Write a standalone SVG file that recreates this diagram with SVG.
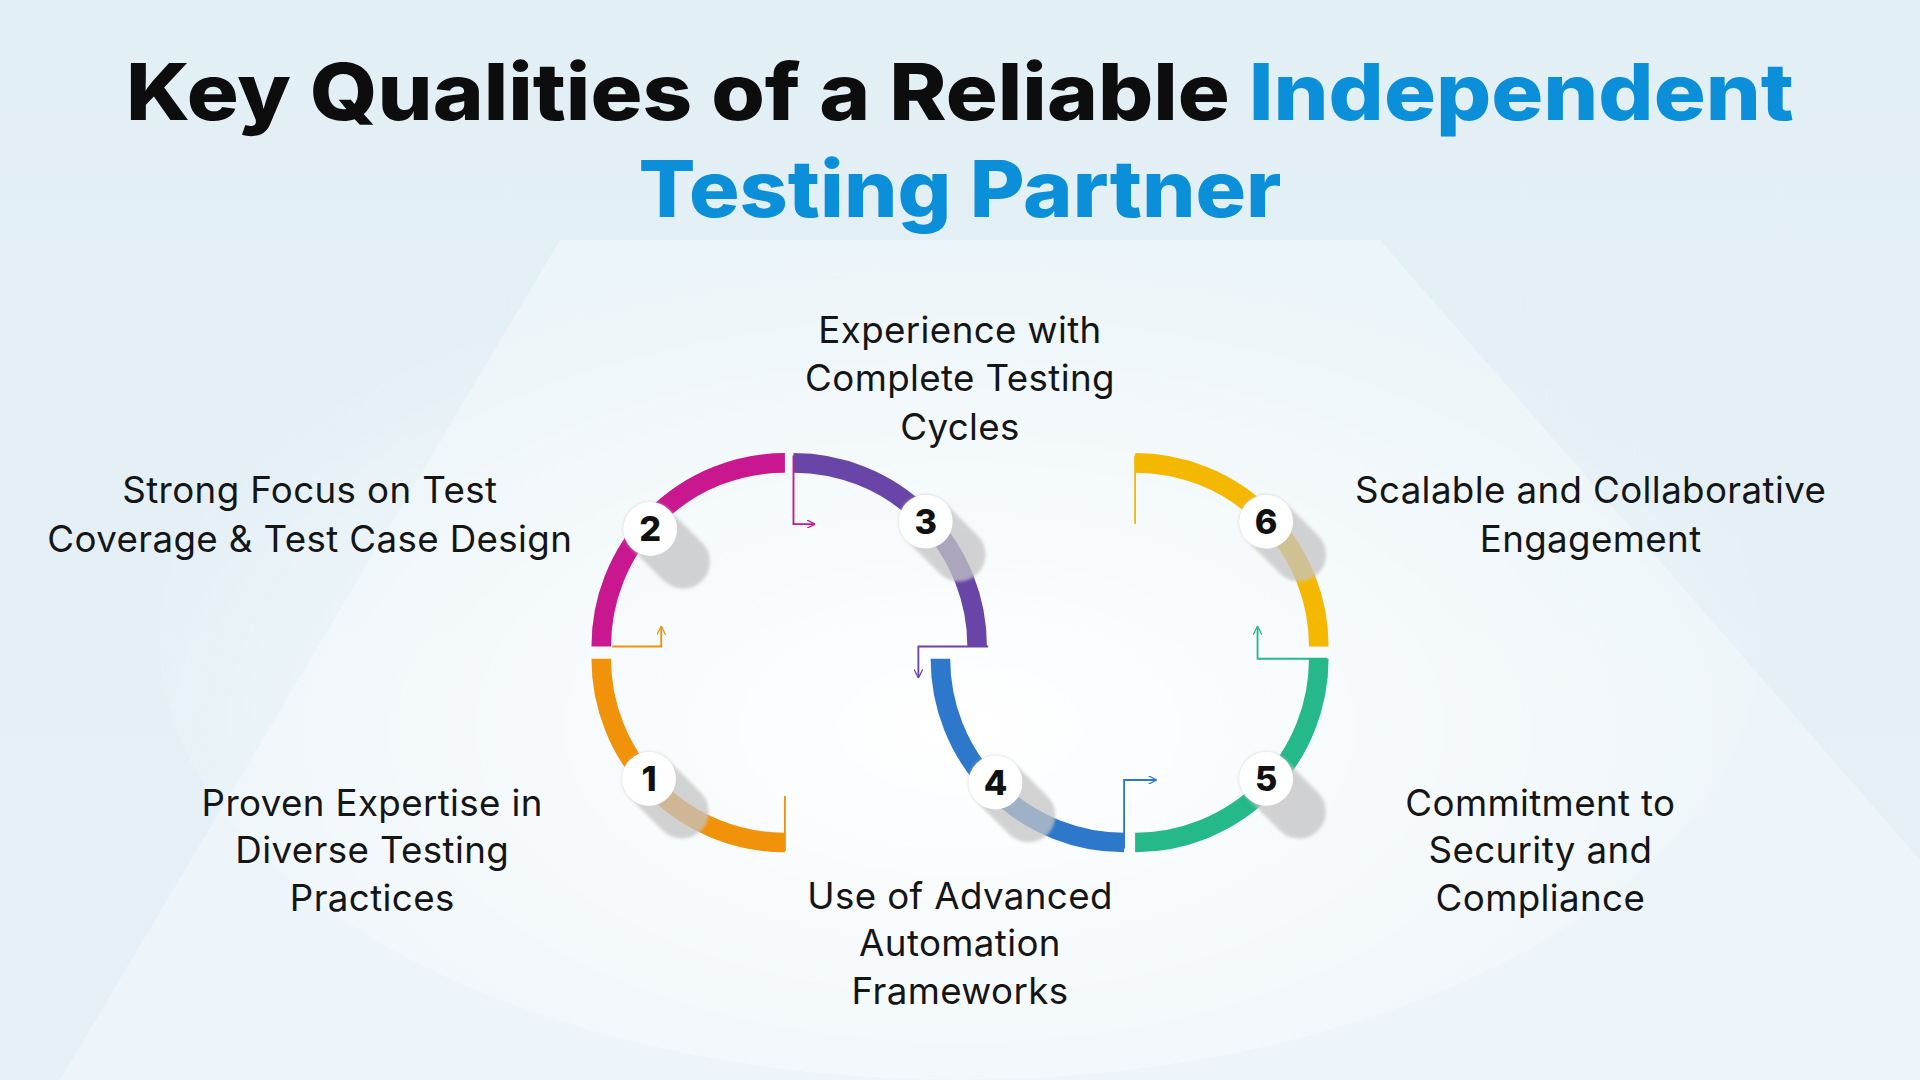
<svg xmlns="http://www.w3.org/2000/svg" width="1920" height="1080" viewBox="0 0 1920 1080">
<defs>
<linearGradient id="bg" x1="0" y1="0" x2="0" y2="1"><stop offset="0" stop-color="#e2eff5"/><stop offset="1" stop-color="#e6f1f7"/></linearGradient>
<radialGradient id="glow" cx="0.5" cy="0.6" r="0.55"><stop offset="0" stop-color="#ffffff"/><stop offset="1" stop-color="#ffffff" stop-opacity="0"/></radialGradient>
<marker id="ah" viewBox="0 0 10 10" refX="9" refY="5" markerWidth="7" markerHeight="7" orient="auto" markerUnits="userSpaceOnUse"><path d="M0,0 L10,5 L0,10" fill="none" stroke="context-stroke" stroke-width="1.5"/></marker>
<filter id="blur"><feGaussianBlur stdDeviation="1.2"/></filter>
</defs>
<style>
.arc{fill:none;stroke-width:16}
.thin{fill:none;stroke-width:1.5}
.lbl{font-family:Inter,"Liberation Sans",sans-serif;font-size:30px;fill:#151515;text-anchor:middle;letter-spacing:0.3px}
.num{font-family:Inter,"Liberation Sans",sans-serif;font-size:28px;font-weight:800;fill:#111;text-anchor:middle}
.title{font-family:Inter,"Liberation Sans",sans-serif;font-size:64px;font-weight:800;text-anchor:middle}
.sh{fill:#c4c4c4;opacity:0.75}
</style>
<rect width="1920" height="1080" fill="url(#bg)"/>
<polygon points="60,1080 560,240 1380,240 1920,860 1920,1080" fill="#f2f8fb" opacity="0.6"/>
<ellipse cx="960" cy="640" rx="800" ry="440" fill="url(#glow)"/>
<g transform="scale(1.2245)">
<g id="title">
<text class="title" x="784" y="98" textLength="1362" lengthAdjust="spacingAndGlyphs"><tspan fill="#0d0d0d">Key Qualities of a Reliable </tspan><tspan fill="#0a8fd8">Independent</tspan></text>
<text class="title" x="784" y="177" fill="#0a8fd8" textLength="525" lengthAdjust="spacingAndGlyphs">Testing Partner</text>
</g>
<g id="connectors">
<path class="arc" stroke="#c8178f" d="M641 378 A150 150 0 0 0 491 528"/>
<path class="arc" stroke="#f0920a" d="M491 538 A150 150 0 0 0 641 688"/>
<path class="arc" stroke="#6a45a8" d="M648 378 A150 150 0 0 1 798 528"/>
<path class="arc" stroke="#2e78cc" d="M768 538 A150 150 0 0 0 918 688"/>
<path class="arc" stroke="#25b88a" d="M927 688 A150 150 0 0 0 1077 538"/>
<path class="arc" stroke="#f5b800" d="M927 378 A150 150 0 0 1 1077 528"/>
<path class="thin" stroke="#f0920a" d="M641 650 V695"/>
<path class="thin" stroke="#f5b800" d="M927 372 V428"/>
<path class="thin" stroke="#c8178f" d="M648 372 V428 H665" marker-end="url(#ah)"/>
<path class="thin" stroke="#f0920a" d="M500 528 H540 V512" marker-end="url(#ah)"/>
<path class="thin" stroke="#6a45a8" d="M807 528 H750 V553" marker-end="url(#ah)"/>
<path class="thin" stroke="#2e78cc" d="M918 693 V637 H944" marker-end="url(#ah)"/>
<path class="thin" stroke="#25b88a" d="M1084 538 H1027 V512" marker-end="url(#ah)"/>
</g>
<g id="n1"><rect class="sh" x="508" y="614" width="82" height="44" rx="22" transform="rotate(45 530 636)" filter="url(#blur)"/><circle cx="530" cy="636" r="22" fill="#fff"/><text class="num" x="530" y="646">1</text></g>
<g id="n2"><rect class="sh" x="509" y="410" width="82" height="44" rx="22" transform="rotate(45 531 432)" filter="url(#blur)"/><circle cx="531" cy="432" r="22" fill="#fff"/><text class="num" x="531" y="442">2</text></g>
<g id="n3"><rect class="sh" x="734" y="404" width="82" height="44" rx="22" transform="rotate(45 756 426)" filter="url(#blur)"/><circle cx="756" cy="426" r="22" fill="#fff"/><text class="num" x="756" y="436">3</text></g>
<g id="n4"><rect class="sh" x="791" y="617" width="82" height="44" rx="22" transform="rotate(45 813 639)" filter="url(#blur)"/><circle cx="813" cy="639" r="22" fill="#fff"/><text class="num" x="813" y="649">4</text></g>
<g id="n5"><rect class="sh" x="1012" y="614" width="82" height="44" rx="22" transform="rotate(45 1034 636)" filter="url(#blur)"/><circle cx="1034" cy="636" r="22" fill="#fff"/><text class="num" x="1034" y="646">5</text></g>
<g id="n6"><rect class="sh" x="1012" y="404" width="82" height="44" rx="22" transform="rotate(45 1034 426)" filter="url(#blur)"/><circle cx="1034" cy="426" r="22" fill="#fff"/><text class="num" x="1034" y="436">6</text></g>
<g id="labels">
<text class="lbl" x="784" y="280">Experience with</text>
<text class="lbl" x="784" y="319">Complete Testing</text>
<text class="lbl" x="784" y="359">Cycles</text>
<text class="lbl" x="253" y="411">Strong Focus on Test</text>
<text class="lbl" x="253" y="451">Coverage &amp; Test Case Design</text>
<text class="lbl" x="304" y="666">Proven Expertise in</text>
<text class="lbl" x="304" y="705">Diverse Testing</text>
<text class="lbl" x="304" y="744">Practices</text>
<text class="lbl" x="784" y="742">Use of Advanced</text>
<text class="lbl" x="784" y="781">Automation</text>
<text class="lbl" x="784" y="820">Frameworks</text>
<text class="lbl" x="1299" y="411">Scalable and Collaborative</text>
<text class="lbl" x="1299" y="451">Engagement</text>
<text class="lbl" x="1258" y="666">Commitment to</text>
<text class="lbl" x="1258" y="705">Security and</text>
<text class="lbl" x="1258" y="744">Compliance</text>
</g>
</g>
</svg>
